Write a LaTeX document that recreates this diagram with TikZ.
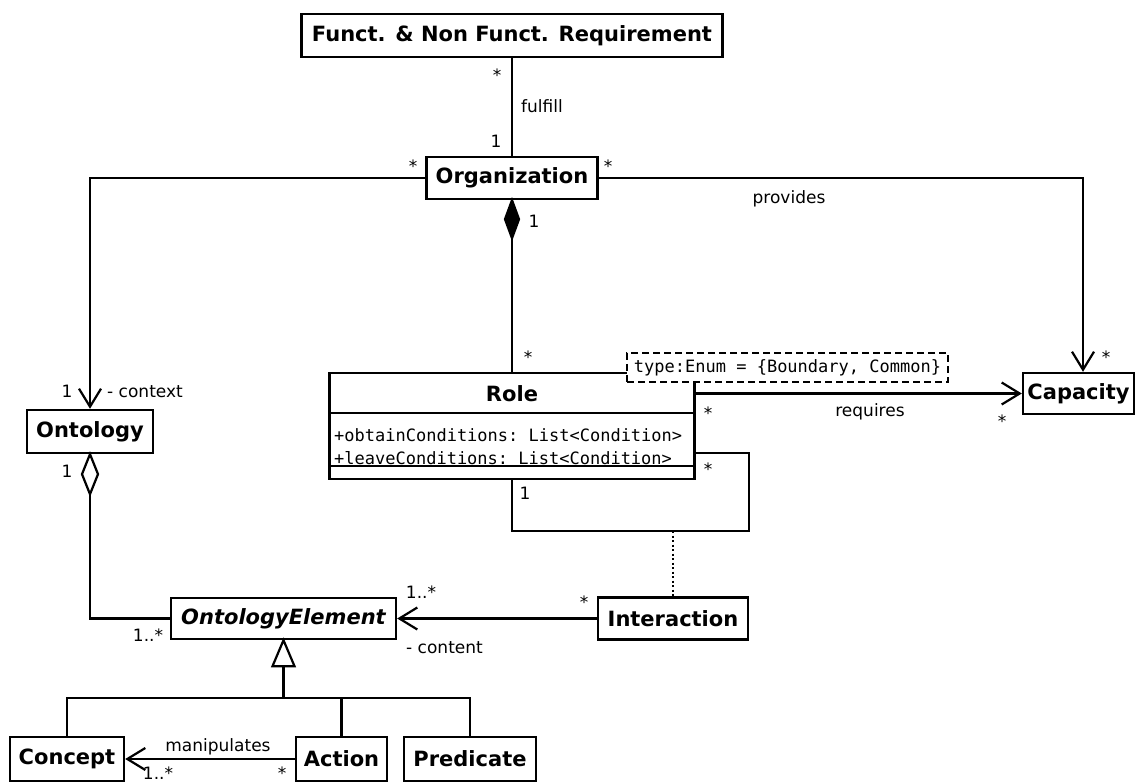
\documentclass[tikz,border=0pt]{standalone}
\usepackage{fontspec}
\setmainfont{DejaVu Sans}
\setmonofont{DejaVu Sans Mono}
\usetikzlibrary{arrows.meta,calc}

\begin{document}
\begin{tikzpicture}[x=1pt,y=-1pt,
  cls/.style={draw,line width=2.4pt,fill=white,inner sep=0pt,
    font=\fontsize{21}{24}\selectfont\bfseries},
  clsname/.style={inner sep=0pt,font=\fontsize{21}{24}\selectfont\bfseries},
  attr/.style={inner sep=0pt,anchor=west,font=\fontsize{17}{20}\selectfont\ttfamily},
  tagbox/.style={draw,line width=2.4pt,dash pattern=on 7pt off 4pt,fill=white,
    inner sep=0pt,font=\fontsize{17}{20}\selectfont\ttfamily},
  lbl/.style={inner sep=0pt,anchor=base,font=\fontsize{17}{20}\selectfont},
  lblw/.style={inner sep=0pt,anchor=base west,font=\fontsize{17}{20}\selectfont},
  conn/.style={line width=2.2pt},
  navto/.style={-{Straight Barb[length=18pt,width=22pt]}},
  dotline/.style={line width=2.2pt,dash pattern=on 2pt off 2.5pt}
]
\useasboundingbox (0,0) rectangle (1135,783);

% classes
\node[cls,minimum width=421pt,minimum height=43pt] (req) at (512,35.5) {Funct. \& Non Funct. Requirement};
\node[cls,minimum width=171pt,minimum height=42pt] (org) at (512,178) {Organization};
\node[cls,minimum width=126pt,minimum height=43pt] (ont) at (90,431.5) {Ontology};
\node[cls,minimum width=111pt,minimum height=41pt] (cap) at (1078.5,393.5) {Capacity};
\node[cls,minimum width=225pt,minimum height=41pt,
  font=\fontsize{21}{24}\selectfont\bfseries\itshape] (oe) at (283.5,618.5) {OntologyElement};
\node[cls,minimum width=150pt,minimum height=42pt] (inter) at (673,618.5) {Interaction};
\node[cls,minimum width=114pt,minimum height=44pt] (concept) at (67,759) {Concept};
\node[cls,minimum width=91pt,minimum height=44pt] (action) at (341.5,759) {Action};
\node[cls,minimum width=132pt,minimum height=44pt] (pred) at (470,759) {Predicate};

% Role class with its compartments
\node[cls,minimum width=365pt,minimum height=106pt] (role) at (512,426) {};
\node[clsname] (rolename) at (512,394) {Role};
\draw[line width=2.4pt] ($(role.north west)+(0,41)$) -- ($(role.north east)+(0,41)$);
\draw[line width=2.4pt] ($(role.north west)+(0,94)$) -- ($(role.north east)+(0,94)$);
\node[attr] (attr1) at (334,435) {+obtainConditions: List<Condition>};
\node[attr] (attr2) at (334,458) {+leaveConditions: List<Condition>};
\node[tagbox,minimum width=321pt,minimum height=29pt] (tag) at (787.5,367.5) {type:Enum = \{Boundary, Common\}};

% associations
\draw[conn] (req.south) -- (org.north);
\draw[conn,navto] (org.west) -| (ont.north);
\draw[conn,navto] (org.east) -| ([xshift=4.5pt]cap.north);
\draw[conn,navto] (role.east |- cap.west) -- (cap.west);

% composition Organization <>-- Role
\draw[conn,fill=black] (org.south) -- ++(7,19) -- ++(-7,19) -- ++(-7,-19) -- cycle;
\coordinate (compend) at ($(org.south)+(0,38)$);
\draw[conn] (compend) -- (role.north);

% aggregation Ontology <>-- OntologyElement
\draw[conn,fill=white] (ont.south) -- ++(8,20) -- ++(-8,20) -- ++(-8,-20) -- cycle;
\coordinate (aggend) at ($(ont.south)+(0,40)$);
\draw[conn] (aggend) |- (oe.west);

% Interaction association class on the Role self-association
\coordinate (loopR) at (749,531);
\coordinate (loopM) at (673,531);
\draw[conn] (role.south) |- (loopR) |- ($(role.east)+(0,27)$);
\draw[dotline] (loopM) -- (inter.north);
\draw[conn,navto] (inter.west) -- (oe.east);

% generalization
\draw[conn,fill=white] (oe.south) -- ++(11,26) -- ++(-22,0) -- cycle;
\coordinate (genbase) at ($(oe.south)+(0,26)$);
\coordinate (genbar) at ($(oe.south)+(0,57.5)$);
\draw[conn] (genbase) -- (genbar);
\draw[conn] (concept.north) |- (genbar) -| (pred.north);
\draw[conn] (action.north) -- (action.north |- genbar);

% manipulates
\draw[conn,navto] (action.west) -- (concept.east);

% labels and multiplicities
\node[lbl] (m1) at (497,82) {*};
\node[lblw] (l1) at (521,113) {fulfill};
\node[lbl] (m2) at (496,148) {1};
\node[lbl] (m3) at (413,173) {*};
\node[lbl] (m4) at (608,173) {*};
\node[lbl] (l2) at (789,204) {provides};
\node[lbl] (m5) at (534,228) {1};
\node[lbl] (m6) at (528,364) {*};
\node[lbl] (m7) at (67,398) {1};
\node[lblw] (l3) at (107,398) {- context};
\node[lbl] (m8) at (67,477) {1};
\node[lbl] (m9) at (148,641) {1..*};
\node[lbl] (m10) at (708,420) {*};
\node[lbl] (l4) at (870,417) {requires};
\node[lbl] (m11) at (1002,428) {*};
\node[lbl] (m12) at (1106,363) {*};
\node[lbl] (m13) at (708,475) {*};
\node[lbl] (m14) at (525,499) {1};
\node[lbl] (m15) at (421,598) {1..*};
\node[lblw] (l5) at (406,653) {- content};
\node[lbl] (m16) at (584,608) {*};
\node[lbl] (l6) at (218,751) {manipulates};
\node[lbl] (m17) at (158,779) {1..*};
\node[lbl] (m18) at (282,779) {*};
\end{tikzpicture}
\end{document}
